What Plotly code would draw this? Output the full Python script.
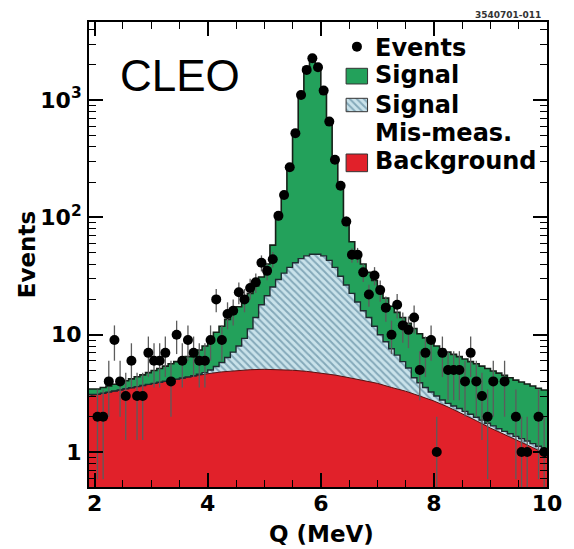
import numpy as np
import plotly.graph_objects as go

# ---------------- data ----------------
BIN_WIDTH = 0.1
q_centers = np.round(np.arange(2.05, 10.0, BIN_WIDTH), 2)  # 80 bins, 2.0 .. 10.0

# observed events per bin (None = empty bin, not drawn on log scale)
events = [2, 2, 4, 9, 4, 3, 6, 3, 3, 7,
          6, 6, 7, 4, 10, 6, 9, 7, 6, 6,
          9, 20, 9, 15, 16, 23, 20, 25, 28, 41,
          35, 44, 103, 155, 267, 521, 1105, 1806, 2270, 1905,
          1203, 655, 310, 186, 92, 48, 48, 34, 22, 32,
          24, 17, 10, 18, 12, 11, 14, 5, 7, 9,
          1, 7, 5, 5, 5, 4, 7, 4, 3, 2,
          4, None, 4, None, 2, 1, 1, None, 2, 1]

# fitted total (Signal + Mis-meas. + Background), top of green histogram
signal_total = [3.45, 3.55, 3.65, 3.78, 3.9, 4.05, 4.2, 4.38, 4.55, 4.75,
                4.95, 5.15, 5.4, 5.65, 5.9, 6.2, 6.5, 6.85, 7.4, 8.0,
                9.0, 10.5, 11.8, 13.5, 15.3, 17.3, 19.7, 22.5, 26, 31,
                40, 58, 100, 162, 270, 553, 1110, 1870, 2264, 1870,
                1220, 640, 320, 189, 95, 62, 46, 40, 34, 29,
                25, 20.5, 17.5, 15.5, 14, 12.5, 11.3, 10.2, 9.4, 8.6,
                8.0, 7.5, 7.1, 6.8, 6.5, 6.2, 5.9, 5.65, 5.4, 5.15,
                4.9, 4.7, 4.5, 4.3, 4.1, 3.95, 3.8, 3.65, 3.5, 3.38]

# Mis-measured signal + Background (top of hatched histogram)
mismeas_total = [3.1, 3.17, 3.24, 3.31, 3.38, 3.46, 3.53, 3.61, 3.69, 3.77,
                 3.85, 3.93, 4.01, 4.09, 4.18, 4.27, 4.37, 4.47, 4.6, 4.75,
                 5.0, 5.35, 5.8, 6.4, 7.1, 8.0, 9.3, 11.2, 14, 18,
                 21.5, 25.5, 29.5, 33.5, 37.5, 41, 44.5, 47, 48.5, 48.5,
                 47, 43, 37.5, 31.5, 26.5, 22.5, 19, 16, 14, 11.8,
                 10, 8.7, 7.6, 6.7, 5.9, 5.2, 4.3, 3.9, 3.55, 3.25,
                 3.0, 2.78, 2.6, 2.47, 2.35, 2.22, 2.1, 1.98, 1.87, 1.76,
                 1.67, 1.58, 1.5, 1.43, 1.36, 1.3, 1.24, 1.18, 1.12, 1.06]

# smooth background curve
bg_q = [1.9, 2.0, 2.25, 2.5, 2.75, 3.0, 3.25, 3.5, 3.75, 4.0,
        4.25, 4.5, 4.75, 5.0, 5.25, 5.5, 5.75, 6.0, 6.25, 6.5,
        6.75, 7.0, 7.25, 7.5, 7.75, 8.0, 8.25, 8.5, 8.75, 9.0,
        9.25, 9.5, 9.75, 10.0]
bg_val = [3.0, 3.07, 3.25, 3.42, 3.6, 3.8, 4.0, 4.2, 4.45, 4.65,
          4.82, 4.95, 5.03, 5.07, 5.05, 4.98, 4.87, 4.72, 4.53, 4.3,
          4.05, 3.85, 3.55, 3.3, 3.0, 2.72, 2.42, 2.13, 1.85, 1.6,
          1.4, 1.24, 1.09, 0.95]

x_tick_vals = [2, 4, 6, 8, 10]
x_tick_text = ["2", "4", "6", "8", "10"]
y_tick_vals = [1, 10, 100, 1000]
y_tick_text = ["1", "10", "10<sup>2</sup>", "10<sup>3</sup>"]

legend_labels = ["Events", "Signal", "Signal", "Mis-meas.", "Background"]

# ---------------- styling ----------------
X_RANGE = [1.9, 10.0]
Y_RANGE = [-0.298, 3.665]
FLOOR = 0.05
GREEN = "#23a15b"
RED = "#e1212a"
HATCH_BG = "#c9e2ea"
HATCH_FG = "#3f6f88"
FONT = "DejaVu Sans"


def step_xy(centers, values, x0, x1):
    xs, ys = [], []
    for c, v in zip(centers, values):
        xs += [c - BIN_WIDTH / 2, c + BIN_WIDTH / 2]
        ys += [v, v]
    xs[0] = x0
    xs[-1] = x1
    return xs, ys


def closed(xs, ys):
    return list(xs) + [xs[-1], xs[0]], list(ys) + [FLOOR, FLOOR]


fig = go.Figure()

# filled areas (drawn back to front)
gx, gy = step_xy(q_centers, signal_total, X_RANGE[0], X_RANGE[1])
hx, hy = step_xy(q_centers, mismeas_total, X_RANGE[0], X_RANGE[1])
px_, py_ = closed(gx, gy)
fig.add_trace(go.Scatter(x=px_, y=py_, fill="toself", fillcolor=GREEN,
                         line=dict(width=0), mode="lines", hoverinfo="skip"))
px_, py_ = closed(hx, hy)
fig.add_trace(go.Scatter(x=px_, y=py_, fill="toself", fillcolor=HATCH_BG,
                         fillpattern=dict(shape="\\", bgcolor=HATCH_BG, fgcolor=HATCH_FG,
                                          size=5, solidity=0.4),
                         line=dict(width=0), mode="lines", hoverinfo="skip"))
px_, py_ = closed(bg_q, bg_val)
fig.add_trace(go.Scatter(x=px_, y=py_, fill="toself", fillcolor=RED,
                         line=dict(width=0), mode="lines", hoverinfo="skip"))

# outlines
fig.add_trace(go.Scatter(x=bg_q, y=bg_val, mode="lines",
                         line=dict(color="#5a1010", width=1), hoverinfo="skip"))
fig.add_trace(go.Scatter(x=hx, y=hy, mode="lines",
                         line=dict(color="#1e2a30", width=1.4), hoverinfo="skip"))
fig.add_trace(go.Scatter(x=gx, y=gy, mode="lines",
                         line=dict(color="#152018", width=1.6), hoverinfo="skip"))

# data points with Poisson errors
ev_x = [q for q, n in zip(q_centers, events) if n]
ev_y = [n for n in events if n]
err_up = [float(np.sqrt(n)) for n in ev_y]
err_dn = [min(float(np.sqrt(n)), n * 0.999) for n in ev_y]
fig.add_trace(go.Scatter(x=ev_x, y=ev_y, mode="markers",
                         marker=dict(color="black", size=10),
                         error_y=dict(type="data", array=err_up, arrayminus=err_dn,
                                      color="#5c5c5c", thickness=1.3, width=0),
                         hoverinfo="skip"))

# ---------------- legend (drawn on an overlay axis in plot fractions) ----------------
def box(x0, x1, y0, y1):
    return [x0, x1, x1, x0, x0], [y0, y0, y1, y1, y0]

bx, by = box(0.5613, 0.6082, 0.8667, 0.9004)
fig.add_trace(go.Scatter(x=bx, y=by, xaxis="x2", yaxis="y2", fill="toself", fillcolor=GREEN,
                         mode="lines", line=dict(color="#333", width=1), hoverinfo="skip"))
bx, by = box(0.5613, 0.6082, 0.8071, 0.8359)
fig.add_trace(go.Scatter(x=bx, y=by, xaxis="x2", yaxis="y2", fill="toself", fillcolor=HATCH_BG,
                         fillpattern=dict(shape="\\", bgcolor=HATCH_BG, fgcolor=HATCH_FG,
                                          size=5, solidity=0.4),
                         mode="lines", line=dict(color="#333", width=1), hoverinfo="skip"))
bx, by = box(0.5613, 0.6082, 0.6781, 0.7161)
fig.add_trace(go.Scatter(x=bx, y=by, xaxis="x2", yaxis="y2", fill="toself", fillcolor=RED,
                         mode="lines", line=dict(color="#333", width=1), hoverinfo="skip"))
fig.add_trace(go.Scatter(x=[0.585], y=[0.947], xaxis="x2", yaxis="y2", mode="markers",
                         marker=dict(color="black", size=10), hoverinfo="skip"))

leg_y = [0.945, 0.886, 0.8215, 0.761, 0.701]
annotations = []
for lab, yy in zip(legend_labels, leg_y):
    annotations.append(dict(text=lab, x=0.619, y=yy, xref="paper", yref="paper",
                            xanchor="left", yanchor="middle", showarrow=False,
                            font=dict(family=FONT, size=24, color="black", weight="bold")))

annotations += [
    dict(text="CLEO", x=0.199, y=0.884, xref="paper", yref="paper", showarrow=False,
         xanchor="center", yanchor="middle",
         font=dict(family="Liberation Sans", size=44, color="black")),
    dict(text="3540701-011", x=0.992, y=1.014, xref="paper", yref="paper", showarrow=False,
         xanchor="right", yanchor="middle",
         font=dict(family=FONT, size=9, color="#333", weight="bold")),
    dict(text="Events", x=-0.136, y=0.5, xref="paper", yref="paper", showarrow=False,
         xanchor="center", yanchor="middle", textangle=-90,
         font=dict(family=FONT, size=23, color="black", weight="bold")),
    dict(text="Q (MeV)", x=0.508, y=-0.1, xref="paper", yref="paper", showarrow=False,
         xanchor="center", yanchor="middle",
         font=dict(family=FONT, size=23, color="black", weight="bold")),
]

minor_y = [m * 10 ** k for k in range(-1, 4) for m in range(2, 10)]

fig.update_layout(
    width=574, height=549,
    margin=dict(l=89, r=23, t=22, b=62),
    paper_bgcolor="white", plot_bgcolor="white",
    showlegend=False,
    annotations=annotations,
    xaxis=dict(range=X_RANGE, tickvals=x_tick_vals, ticktext=x_tick_text,
               ticks="inside", ticklen=14, tickwidth=1.5, tickcolor="black",
               showline=True, linecolor="black", linewidth=2, mirror="allticks",
               showgrid=False, zeroline=False, ticklabelstandoff=-4,
               minor=dict(tickvals=[v / 2 for v in range(4, 21) if v % 4 != 0],
                          ticks="inside", ticklen=7, tickwidth=1.2, tickcolor="black",
                          showgrid=False),
               tickfont=dict(family=FONT, size=22, color="black", weight="bold")),
    yaxis=dict(type="log", range=Y_RANGE, tickvals=y_tick_vals, ticktext=y_tick_text,
               ticks="inside", ticklen=14, tickwidth=1.5, tickcolor="black",
               showline=True, linecolor="black", linewidth=2, mirror="allticks",
               showgrid=False, zeroline=False, ticklabelstandoff=1,
               minor=dict(tickvals=minor_y, ticks="inside", ticklen=7, tickwidth=1.2,
                          tickcolor="black", showgrid=False),
               tickfont=dict(family=FONT, size=22, color="black", weight="bold")),
    xaxis2=dict(overlaying="x", range=[0, 1], visible=False, anchor="y2"),
    yaxis2=dict(overlaying="y", range=[0, 1], visible=False, anchor="x2"),
)

fig.write_html("out.html")
